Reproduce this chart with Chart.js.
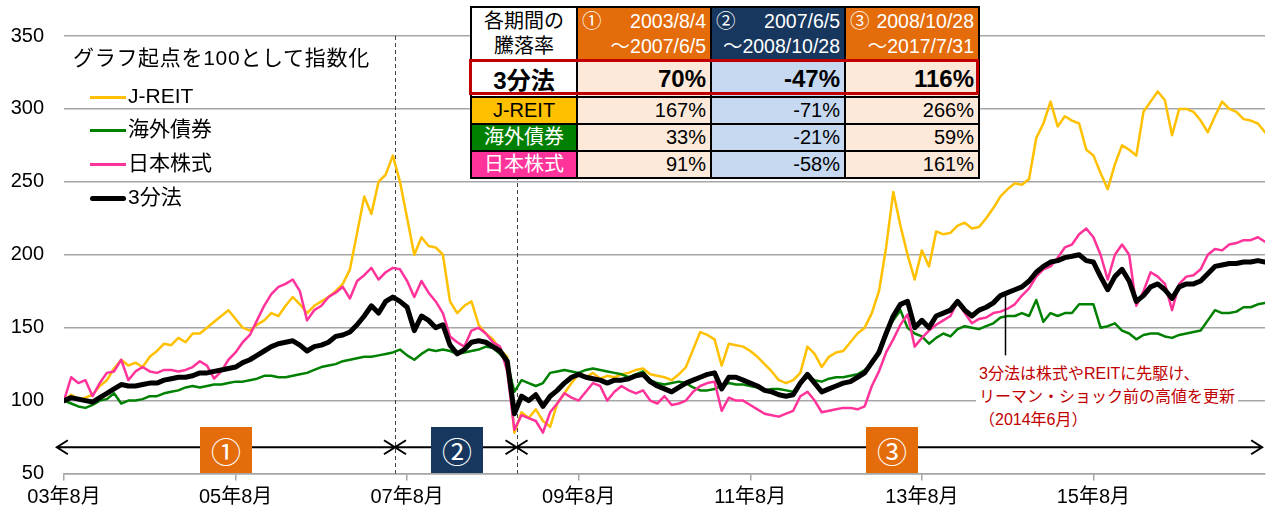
<!DOCTYPE html>
<html lang="ja">
<head>
<meta charset="UTF-8">
<title>3分法</title>
<script src="https://cdn.jsdelivr.net/npm/chart.js@4.4.1/dist/chart.umd.min.js"></script>
<style>
  body { margin: 0; background: #fff; font-family: "Liberation Sans", "Noto Sans CJK JP", sans-serif; }
  .wrap { position: relative; width: 1266px; height: 512px; overflow: hidden; }
  #lineChart { position: absolute; left: 0; top: 0; }

  /* 凡例 */
  .title { position: absolute; left: 73px; top: 44px; font-size: 21px; letter-spacing: 0.7px; line-height: 28px; color: #000; white-space: nowrap; }
  .lg { position: absolute; left: 90px; height: 26px; font-size: 21px; line-height: 26px; white-space: nowrap; }
  .lg i { display: inline-block; width: 36px; vertical-align: middle; margin-right: 2px; }

  /* 騰落率の表 */
  .kikan { position: absolute; left: 470px; top: 6px; border-collapse: collapse; table-layout: fixed; background: #fff; }
  .kikan td { border: 2px solid #000; padding: 0 4px; font-size: 20px; text-align: right; white-space: nowrap; overflow: hidden; }
  .kikan .head td { height: 51px; line-height: 25px; color: #fff; font-size: 19.5px; }
  .kikan .head td.c0 { color: #000; text-align: center; background: #fff; font-size: 20px; }
  .kikan .l1 { display: flex; justify-content: space-between; }
  .kikan .or { background: #E46C0A; }
  .kikan .nv { background: #17375E; }
  .kikan .pe { background: #FDE9D9; }
  .kikan .bl { background: #C6D9F1; }
  .kikan .sb td { height: 32px; font-size: 24px; font-weight: bold; }
  .kikan .sb td.c0 { background: #fff; text-align: center; }
  .kikan .r td { height: 25px; line-height: 25px; }
  .kikan .r td.c0 { text-align: center; }
  .redbox { position: absolute; left: 469px; top: 59px; width: 510px; height: 36px; border: 3px solid #C00000; box-sizing: border-box; }

  /* 期間の番号 */
  .num { position: absolute; top: 427px; width: 52px; height: 46px; color: #fff; font-size: 30px; line-height: 46px; text-align: center; font-family: "Noto Sans CJK JP", sans-serif; }

  /* 注記 */
  .note { position: absolute; left: 976px; top: 362px; font-size: 16px; line-height: 23px; color: #C00000; background: #fff; padding: 0 3px; white-space: nowrap; }
</style>
</head>
<body>
<div class="wrap">
  <canvas id="lineChart" width="1266" height="512"></canvas>

  <div class="title">グラフ起点を100として指数化</div>
  <div class="lg" style="top:83px"><i style="height:2.5px;background:#FFC000"></i>J-REIT</div>
  <div class="lg" style="top:116px"><i style="height:2.5px;background:#008000"></i>海外債券</div>
  <div class="lg" style="top:150px"><i style="height:2.5px;background:#FF3399"></i>日本株式</div>
  <div class="lg" style="top:184px"><i style="height:5px;background:#000;border-radius:3px"></i>3分法</div>

  <table class="kikan">
    <colgroup><col style="width:106px"><col style="width:134px"><col style="width:134px"><col style="width:134px"></colgroup>
    <tr class="head">
      <td class="c0">各期間の<br>騰落率</td>
      <td class="or"><div class="l1"><span>①</span><span>2003/8/4</span></div><div>～2007/6/5</div></td>
      <td class="nv"><div class="l1"><span>②</span><span>2007/6/5</span></div><div>～2008/10/28</div></td>
      <td class="or"><div class="l1"><span>③</span><span>2008/10/28</span></div><div>～2017/7/31</div></td>
    </tr>
    <tr class="sb">
      <td class="c0">3分法</td><td class="pe">70%</td><td class="bl">-47%</td><td class="pe">116%</td>
    </tr>
    <tr class="r">
      <td class="c0" style="background:#FFC000;color:#000">J-REIT</td><td class="pe">167%</td><td class="bl">-71%</td><td class="pe">266%</td>
    </tr>
    <tr class="r">
      <td class="c0" style="background:#008000;color:#fff">海外債券</td><td class="pe">33%</td><td class="bl">-21%</td><td class="pe">59%</td>
    </tr>
    <tr class="r">
      <td class="c0" style="background:#FF3399;color:#fff">日本株式</td><td class="pe">91%</td><td class="bl">-58%</td><td class="pe">161%</td>
    </tr>
  </table>
  <div class="redbox"></div>

  <div class="num" style="left:200px;background:#E46C0A">①</div>
  <div class="num" style="left:431px;background:#17375E">②</div>
  <div class="num" style="left:866px;background:#E46C0A">③</div>

  <div class="note">3分法は株式やREITに先駆け、<br>リーマン・ショック前の高値を更新<br>（2014年6月）</div>
</div>

<script>
//フォント
var fontFamily = "'Liberation Sans', 'Noto Sans CJK JP', sans-serif";

//横軸（2003年8月からの月数）の目盛
var xTickMonths = [0, 24, 48, 72, 96, 120, 144];
var xTickLabels = ["03年8月", "05年8月", "07年8月", "09年8月", "11年8月", "13年8月", "15年8月"];

//縦軸の目盛
var yMin = 50;
var yMax = 350;
var yStep = 50;

//期間の区切り（月数）
var periodBounds = [46.3, 63.3];
//矢印の範囲と高さ
var arrowStart = -1;
var arrowEnd = 167.6;
var arrowLevel = 68;
//注記の線（2014年6月）
var calloutMonth = 131.6;
var calloutTop = 174;
var calloutBottom = 131;

//月次の指数（2003年8月=100）
var jreit = [
  100, 104, 101, 102, 104, 110, 114, 122, 128, 124,
  126, 123, 130, 134, 139, 138, 143, 140, 146, 146,
  150, 154, 158, 162, 156, 150, 148, 152, 155, 160,
  158, 165, 171, 166, 160, 165, 168, 171, 175, 180,
  190, 215, 240, 228, 250, 255, 268, 250, 225, 200,
  212, 206, 205, 200, 168, 160, 165, 168, 152, 146,
  142, 135, 130, 78, 92, 88, 94, 86, 82, 98,
  105, 112, 118, 116, 119, 115, 117, 116, 118, 119,
  121, 122, 118, 117, 116, 114, 118, 123, 135, 147,
  145, 142, 124, 139, 138, 137, 134, 130, 125, 120,
  114, 112, 114, 119, 137, 132, 123, 130, 133, 134,
  140, 146, 150, 160, 175, 205, 243, 220, 200, 183,
  203, 192, 216, 214, 215, 220, 222, 218, 219, 225,
  232, 240, 245, 249, 248, 252, 280, 290, 305, 288,
  295, 292, 290, 272, 268, 256, 245, 262, 275, 272,
  268, 298, 305, 312, 306, 282, 300, 300, 298, 292,
  284, 295, 305, 300, 298, 293, 292, 290, 284
];

var bonds = [
  100, 98, 96, 95, 97, 100, 101, 105, 98, 100,
  100, 101, 103, 103, 105, 106, 107, 109, 110, 109,
  110, 111, 111, 112, 113, 113, 114, 115, 117, 117,
  116, 116, 117, 118, 119, 121, 123, 124, 125, 127,
  128, 129, 130, 130, 131, 132, 133, 135, 131, 128,
  132, 135, 134, 135, 134, 132, 133, 134, 135, 137,
  136, 132, 126, 106, 114, 112, 110, 112, 119, 120,
  121, 120, 119, 121, 122, 121, 120, 119, 118, 116,
  118, 120, 114, 112, 111, 112, 113, 112, 109, 107,
  107, 108, 110, 112, 111, 111, 110, 109, 107, 108,
  108, 107, 106, 112, 116, 114, 113, 115, 116, 116,
  117, 118, 121, 125, 135, 148, 155, 162, 150, 146,
  144, 139, 143, 146, 144, 149, 151, 150, 149, 151,
  153, 157, 158, 158, 160, 158, 169, 154, 160, 158,
  160, 160, 166, 166, 166, 150, 151, 153, 148, 146,
  142, 145, 146, 146, 144, 143, 145, 146, 147, 148,
  155, 162, 160, 160, 161, 164, 164, 166, 167
];

var stocks = [
  100, 116, 112, 114, 103, 112, 119, 120, 128, 114,
  120, 123, 120, 119, 121, 121, 120, 121, 123, 127,
  124, 115, 120, 128, 133, 140, 145, 155, 165, 173,
  178, 180, 183, 175, 155, 162, 165, 171, 174, 178,
  170, 182, 186, 191, 183, 188, 191, 190, 182, 171,
  182, 174, 168, 160, 144, 140, 137, 148, 150, 146,
  140, 137, 120, 80, 90, 88, 86, 78, 92, 98,
  105, 102, 100, 106, 112, 110, 100, 106, 110, 107,
  105, 107, 100, 98, 103, 97, 98, 100, 106, 110,
  112, 113, 93, 102, 100, 100, 97, 94, 91, 90,
  89, 91, 93, 103, 106, 100, 92, 93, 94, 95,
  95, 94, 96, 110, 120, 133, 142, 152, 159, 137,
  143, 148, 152, 155, 158, 168, 160, 153, 156, 157,
  160, 161, 163, 166, 172, 177, 185, 190, 192, 198,
  205, 207, 214, 218, 212, 200, 183, 200, 207, 200,
  165, 175, 188, 185, 180, 162, 180, 185, 186, 190,
  200, 204, 203, 207, 208, 210, 210, 212, 209
];

var sanbunpo = [
  100, 102, 101, 100, 99, 102, 105, 108, 111, 110,
  110, 111, 112, 112, 114, 115, 116, 116, 117, 119,
  119, 120, 121, 122, 123, 126, 128, 131, 134, 137,
  139, 140, 141, 138, 134, 137, 138, 140, 144, 145,
  147, 152, 158, 165, 160, 168, 171, 168, 164, 148,
  158, 155, 150, 152, 138, 132, 135, 140, 141, 140,
  137, 134, 127, 91, 103, 100, 104, 96, 103, 107,
  112, 116, 118, 116, 115, 114, 112, 114, 114, 115,
  117, 118, 113, 110, 108, 106, 109, 112, 114, 116,
  118, 119, 108, 116, 116, 114, 112, 110, 107, 106,
  104, 103, 104, 112, 118, 112, 106, 108, 110, 112,
  113, 116, 119, 126, 133, 146, 158, 166, 168, 150,
  155, 150, 158, 160, 162, 168, 162, 158, 162, 164,
  167, 172, 174, 176, 178, 182, 188, 192, 195, 196,
  198, 199, 200, 196, 195, 185, 176, 185, 190, 182,
  168, 172, 178, 180, 176, 170, 178, 180, 180, 182,
  187, 192, 193, 194, 194, 195, 195, 196, 195
];

//{x: 月数, y: 値} に変換
function toPoints(values) {
  return values.map(function (v, i) { return { x: i, y: v }; });
}

//矢印を描く
function drawArrow(ctx, x1, x2, y, headLeft, headRight) {
  ctx.beginPath();
  ctx.moveTo(x1, y);
  ctx.lineTo(x2, y);
  if (headLeft) {
    ctx.moveTo(x1 + 11, y - 7);
    ctx.lineTo(x1, y);
    ctx.lineTo(x1 + 11, y + 7);
  }
  if (headRight) {
    ctx.moveTo(x2 - 11, y - 7);
    ctx.lineTo(x2, y);
    ctx.lineTo(x2 - 11, y + 7);
  }
  ctx.stroke();
}

//期間の区切り線・矢印・注記の線
var periodPlugin = {
  id: "periodPlugin",
  beforeDatasetsDraw: function (chart) {
    var ctx = chart.ctx;
    var xs = chart.scales.x;
    var area = chart.chartArea;
    ctx.save();
    ctx.strokeStyle = "#404040";
    ctx.lineWidth = 1;
    ctx.setLineDash([4, 3]);
    periodBounds.forEach(function (m) {
      var px = Math.round(xs.getPixelForValue(m)) + 0.5;
      ctx.beginPath();
      ctx.moveTo(px, area.top);
      ctx.lineTo(px, area.bottom);
      ctx.stroke();
    });
    ctx.restore();
  },
  afterDatasetsDraw: function (chart) {
    var ctx = chart.ctx;
    var xs = chart.scales.x;
    var ys = chart.scales.y;
    var y = ys.getPixelForValue(arrowLevel);
    var b = [arrowStart].concat(periodBounds).concat([arrowEnd]);
    ctx.save();
    ctx.strokeStyle = "#000";
    ctx.lineWidth = 2;
    for (var i = 0; i < b.length - 1; i++) {
      drawArrow(ctx, xs.getPixelForValue(b[i]), xs.getPixelForValue(b[i + 1]), y, true, true);
    }
    //注記の線
    var cx = Math.round(xs.getPixelForValue(calloutMonth)) + 0.5;
    ctx.lineWidth = 1.5;
    ctx.beginPath();
    ctx.moveTo(cx, ys.getPixelForValue(calloutTop));
    ctx.lineTo(cx, ys.getPixelForValue(calloutBottom));
    ctx.stroke();
    ctx.restore();
  }
};

var ctx1 = document.getElementById("lineChart");
var myChart = new Chart(ctx1, {
  type: "line",
  data: {
    datasets: [
      { label: "J-REIT", data: toPoints(jreit), borderColor: "#FFC000", borderWidth: 2.5, order: 3 },
      { label: "海外債券", data: toPoints(bonds), borderColor: "#008000", borderWidth: 2.5, order: 2 },
      { label: "日本株式", data: toPoints(stocks), borderColor: "#FF3399", borderWidth: 2.5, order: 1 },
      { label: "3分法", data: toPoints(sanbunpo), borderColor: "#000000", borderWidth: 5, order: 0 }
    ]
  },
  options: {
    responsive: false,
    animation: false,
    layout: { padding: { top: 36, right: 1, left: 0, bottom: 0 } },
    elements: {
      point: { radius: 0 },
      line: { tension: 0, borderJoinStyle: "round", borderCapStyle: "round", fill: false }
    },
    plugins: {
      legend: { display: false },
      tooltip: { enabled: false }
    },
    scales: {
      x: {
        type: "linear",
        min: 0,
        max: 168,
        afterBuildTicks: function (scale) {
          scale.ticks = xTickMonths.map(function (m) { return { value: m }; });
        },
        afterFit: function (scale) { scale.height = 38.5; },
        grid: { drawOnChartArea: false, drawTicks: true, tickLength: 7, color: "#A6A6A6", lineWidth: 1.5 },
        border: { color: "#A6A6A6", width: 1.5 },
        ticks: {
          autoSkip: false,
          maxRotation: 0,
          padding: 5,
          color: "#000",
          font: { size: 20, family: fontFamily },
          callback: function (value) { return xTickLabels[xTickMonths.indexOf(value)]; }
        }
      },
      y: {
        min: yMin,
        max: yMax,
        afterFit: function (scale) { scale.width = 64; },
        grid: { color: "#A6A6A6", lineWidth: 1.5, drawTicks: false },
        border: { display: false },
        ticks: {
          stepSize: yStep,
          padding: 20,
          color: "#000",
          font: { size: 20, family: fontFamily }
        }
      }
    }
  },
  plugins: [periodPlugin]
});
</script>
</body>
</html>
